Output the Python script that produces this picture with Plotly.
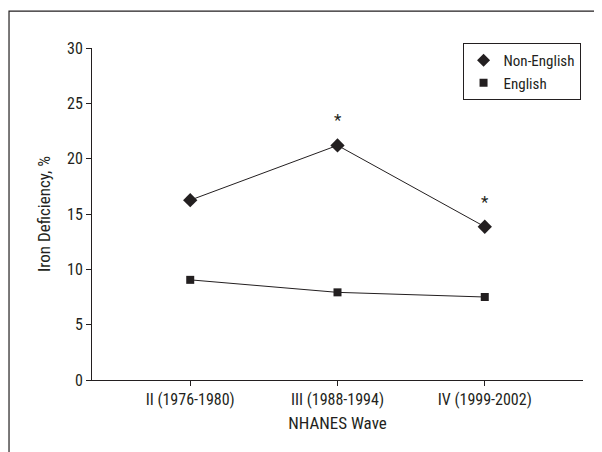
import plotly.graph_objects as go

waves = ["II (1976-1980)", "III (1988-1994)", "IV (1999-2002)"]
non_english = [16.25, 21.2, 13.85]
english = [9.05, 7.92, 7.5]
significant = [False, True, True]
y_ticks = [0, 5, 10, 15, 20, 25, 30]

FONT = "Liberation Sans Narrow, Arial Narrow, Roboto Condensed, Liberation Sans, sans-serif"
INK = "#231f20"

fig = go.Figure()
fig.add_trace(go.Scatter(
    x=waves, y=non_english, mode="lines+markers", name="Non-English",
    line=dict(color=INK, width=1), showlegend=False,
    marker=dict(symbol="diamond", size=11, color=INK),
))
fig.add_trace(go.Scatter(
    x=waves, y=english, mode="lines+markers", name="English",
    line=dict(color=INK, width=1), showlegend=False,
    marker=dict(symbol="square", size=8, color=INK),
))
# legend entries (markers only, as in the reference)
fig.add_trace(go.Scatter(x=[None], y=[None], mode="markers", name="Non-English",
                         marker=dict(symbol="diamond", size=10, color=INK)))
fig.add_trace(go.Scatter(x=[None], y=[None], mode="markers", name="English",
                         marker=dict(symbol="square", size=8, color=INK)))

for w, v, s in zip(waves, non_english, significant):
    if s:
        fig.add_annotation(x=w, y=v, text="*", showarrow=False, yshift=25,
                           font=dict(size=17, color=INK, family=FONT))

fig.add_shape(type="rect", xref="paper", yref="paper",
              x0=-0.169, x1=1.2, y0=-0.4, y1=1.111,
              line=dict(color=INK, width=1.2), fillcolor="rgba(0,0,0,0)")

fig.update_layout(
    width=602, height=452,
    margin=dict(l=84, r=27, t=40, b=80),
    paper_bgcolor="white", plot_bgcolor="white",
    font=dict(family=FONT, size=16, color=INK),
    showlegend=True,
    legend=dict(x=0.995, xanchor="right", y=1.015, yanchor="top",
                bordercolor=INK, borderwidth=1, bgcolor="white",
                font=dict(size=15, family=FONT, color=INK),
                itemwidth=30, tracegroupgap=0),
    xaxis=dict(range=[-0.667, 2.667], showline=True, linecolor=INK, linewidth=1,
               ticks="outside", ticklen=5, tickcolor=INK, showgrid=False,
               zeroline=False, tickfont=dict(size=16),
               title=dict(text="NHANES Wave", font=dict(size=17), standoff=8)),
    yaxis=dict(range=[0, 30], tickvals=y_ticks, showline=True, linecolor=INK, linewidth=1,
               ticks="outside", ticklen=5, tickcolor=INK, showgrid=False,
               zeroline=False, tickfont=dict(size=16),
               title=dict(text="Iron Deficiency, %", font=dict(size=17), standoff=12)),
)

fig.write_html("out.html")
